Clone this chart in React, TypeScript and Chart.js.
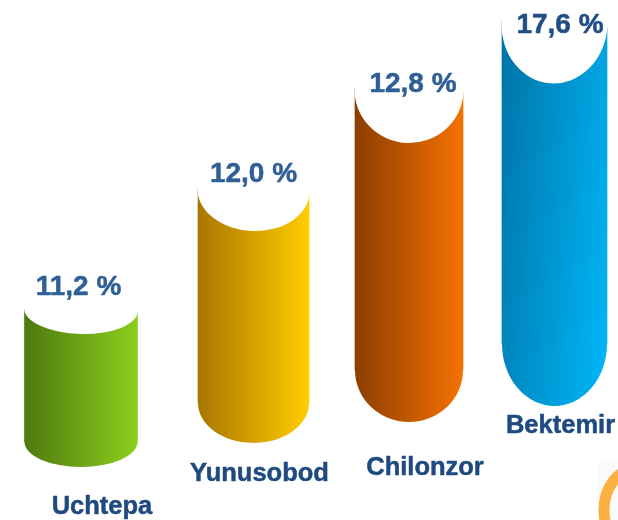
import React, { useEffect, useRef } from "react";
import { Chart, registerables } from "chart.js";

Chart.register(...registerables);

// Data
const categories = ["Uchtepa", "Yunusobod", "Chilonzor", "Bektemir"];
const percentValues = [11.2, 12.0, 12.8, 17.6];
// The cylinders are floating and staggered: extents on a picture-height axis (0 at the bottom)
const barStarts = [78, 117, 150, 176];
const barEnds = [212, 332, 433, 500];
const barCentres = [81, 253.5, 409, 554.5];

// Styling, kept apart from the data
const WIDTH = 618;
const HEIGHT = 520;
const barWidths = [113, 111, 108, 105];
const capDepths = [24.5, 40.5, 53, 60];
const capTilts = [3, 5, 6, 7];
const footDepths = [25, 40, 52, 62];
const gradientStops = [
  ["#4e7a10", "#8ccf1d"],
  ["#a97600", "#ffcd00"],
  ["#8c3e00", "#f77100"],
  ["#0073a6", "#00b8fa"],
];
const valueLabelOffsets = [
  [-2.5, 225],
  [0, 338],
  [4, 428],
  [5.5, 487],
];
const nameLabelOffsets = [
  [21, 6],
  [6, 39],
  [16, 45],
  [6, 87],
];
const valueColors = ["#2f5f96", "#2f5f96", "#2f5f96", "#204e86"];
const nameColor = "#1f4a80";

function barGradient(ctx: CanvasRenderingContext2D, i: number, cx: number, top: number) {
  const l = cx - barWidths[i] / 2;
  const r = cx + barWidths[i] / 2;
  const g =
    i === 3
      ? ctx.createLinearGradient(l, top, l + 148, top + 17)
      : ctx.createLinearGradient(l, 0, r, 0);
  g.addColorStop(0, gradientStops[i][0]);
  g.addColorStop(1, gradientStops[i][1]);
  return g;
}

const cylinderPlugin = {
  id: "cylinder",
  beforeDatasetsDraw(chart: any) {
    const meta = chart.getDatasetMeta(0);
    meta.data.forEach((el: any, i: number) => {
      el.width = barWidths[i];
      el.options.backgroundColor = barGradient(chart.ctx, i, el.x, el.y);
    });
  },
  afterDatasetsDraw(chart: any) {
    const { ctx, scales } = chart;
    const meta = chart.getDatasetMeta(0);
    ctx.save();
    // small cut-off ornament in the lower right corner of the source picture
    ctx.fillStyle = "#fafafa";
    ctx.fillRect(598, 460, 20, 60);
    ctx.save();
    ctx.beginPath();
    ctx.rect(598, 460, 20, 60);
    ctx.clip();
    ctx.strokeStyle = "#fbb03f";
    ctx.lineWidth = 11;
    ctx.beginPath();
    ctx.ellipse(636, 510, 32, 41, 0, 0, Math.PI * 2);
    ctx.stroke();
    ctx.restore();

    meta.data.forEach((el: any, i: number) => {
      const w = barWidths[i];
      const l = el.x - w / 2;
      const r = el.x + w / 2;
      const top = el.y;
      const base = el.base;
      // rounded foot
      ctx.fillStyle = barGradient(ctx, i, el.x, top);
      ctx.beginPath();
      ctx.ellipse(el.x, base, w / 2, footDepths[i], 0, 0, Math.PI);
      ctx.closePath();
      ctx.fill();
      // hollow top
      const tilt = capTilts[i];
      const midY = top + tilt / 2;
      ctx.fillStyle = "#ffffff";
      ctx.beginPath();
      ctx.ellipse(el.x, midY, w / 2 + 0.5, capDepths[i], Math.atan2(tilt, w), 0, Math.PI * 2);
      ctx.fill();
      ctx.beginPath();
      ctx.moveTo(l - 1, top - 1);
      ctx.lineTo(r + 1, top - 1);
      ctx.lineTo(r + 1, top + tilt);
      ctx.lineTo(l - 1, top);
      ctx.closePath();
      ctx.fill();
    });

    ctx.textAlign = "center";
    ctx.textBaseline = "alphabetic";
    ctx.lineWidth = 0.5;
    ctx.lineJoin = "round";
    meta.data.forEach((el: any, i: number) => {
      ctx.font = 'bold 28px "Liberation Sans", Arial, sans-serif';
      ctx.fillStyle = valueColors[i];
      ctx.strokeStyle = valueColors[i];
      const text = percentValues[i].toFixed(1).replace(".", ",") + " %";
      const vx = el.x + valueLabelOffsets[i][0];
      const vy = scales.y.getPixelForValue(valueLabelOffsets[i][1]);
      ctx.fillText(text, vx, vy);
      ctx.strokeText(text, vx, vy);
      ctx.font = 'bold 25.5px "Liberation Sans", Arial, sans-serif';
      ctx.fillStyle = nameColor;
      ctx.strokeStyle = nameColor;
      const nx = el.x + nameLabelOffsets[i][0];
      const ny = scales.y.getPixelForValue(nameLabelOffsets[i][1]);
      ctx.fillText(categories[i], nx, ny);
      ctx.strokeText(categories[i], nx, ny);
    });
    ctx.restore();
  },
};

export default function App() {
  const ref = useRef<HTMLCanvasElement | null>(null);
  useEffect(() => {
    if (!ref.current) return;
    const chart = new Chart(ref.current, {
      type: "bar",
      data: {
        labels: categories,
        datasets: [
          {
            label: "%",
            data: barCentres.map((x, i) => ({ x, y: [barStarts[i], barEnds[i]] })) as any,
            barThickness: 110,
            backgroundColor: gradientStops.map((s) => s[1]),
            borderWidth: 0,
          },
        ],
      },
      options: {
        animation: false,
        responsive: false,
        maintainAspectRatio: false,
        layout: { padding: 0 },
        plugins: { legend: { display: false }, tooltip: { enabled: false } },
        scales: {
          x: { type: "linear", min: 0, max: WIDTH, offset: false, display: false },
          y: { type: "linear", min: 0, max: HEIGHT, display: false },
        },
      },
      plugins: [cylinderPlugin],
    });
    return () => chart.destroy();
  }, []);
  return (
    <div style={{ position: "absolute", left: 0, top: 0, width: WIDTH, height: HEIGHT, background: "#fff" }}>
      <canvas ref={ref} width={WIDTH} height={HEIGHT} style={{ display: "block" }} />
    </div>
  );
}
